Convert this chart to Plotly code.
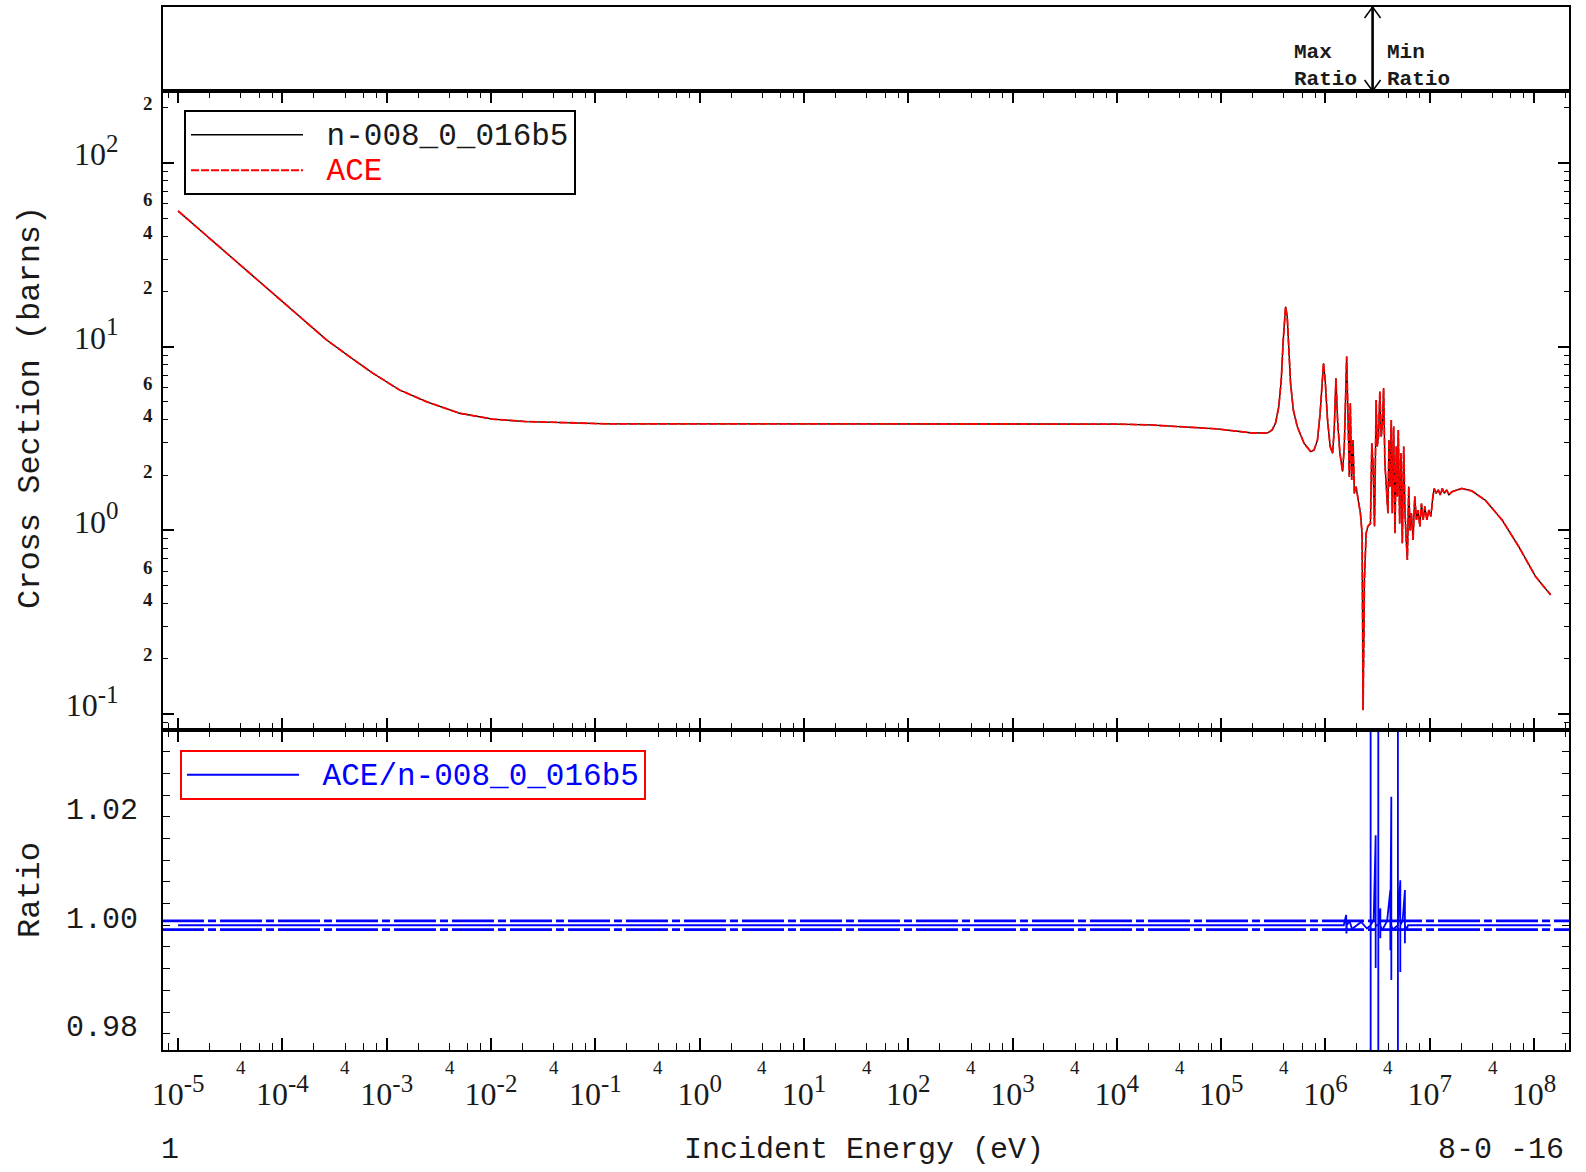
import math
import plotly.graph_objects as go

# ---------------- data ----------------
energy_ev = [
    1.0e-5, 1.49e-5, 2.90e-5, 6.04e-5, 1.46e-4, 2.64e-4, 4.40e-4, 7.38e-4, 1.33e-3, 2.40e-3,
    5.0e-3, 1.04e-2, 2.18e-2, 4.55e-2, 1.37e-1, 1.0, 1.0e1, 1.0e2, 1.0e3, 1.0e4,
    2.06e4, 4.33e4, 9.07e4, 1.90e5, 2.56e5, 2.76e5, 3.08e5, 3.32e5, 3.57e5, 3.77e5,
    3.94e5, 4.15e5, 4.30e5, 4.47e5, 4.63e5, 4.92e5, 5.37e5, 6.23e5, 7.23e5, 7.78e5,
    8.38e5, 8.89e5, 9.30e5, 9.58e5, 9.94e5, 1.047e6, 1.11e6, 1.17e6, 1.214e6, 1.26e6,
    1.307e6, 1.376e6, 1.46e6, 1.516e6, 1.597e6, 1.644e6, 1.694e6, 1.732e6, 1.784e6, 1.838e6,
    1.893e6, 1.965e6, 2.04e6, 2.163e6, 2.245e6, 2.295e6, 2.364e6, 2.454e6, 2.547e6, 2.70e6,
    2.783e6, 2.867e6, 2.953e6, 3.064e6, 3.133e6, 3.227e6, 3.324e6, 3.424e6, 3.527e6, 3.607e6,
    3.715e6, 3.826e6, 3.971e6, 4.061e6, 4.152e6, 4.277e6, 4.373e6, 4.504e6, 4.640e6, 4.779e6,
    4.886e6, 4.996e6, 5.146e6, 5.30e6, 5.46e6, 5.625e6, 5.794e6, 5.97e6, 6.10e6, 6.285e6,
    6.475e6, 6.67e6, 6.92e6, 7.18e6, 7.455e6, 7.74e6, 8.03e6, 8.33e6, 8.65e6, 8.97e6,
    9.38e6, 9.80e6, 1.025e7, 1.072e7, 1.104e7, 1.154e7, 1.207e7, 1.262e7, 1.319e7, 1.379e7,
    1.452e7, 1.529e7, 1.623e7, 2.027e7, 2.532e7, 3.404e7, 4.93e7, 7.14e7, 1.034e8, 1.443e8,
]
xs_endf_barns = [
    54.8, 45.0, 32.3, 22.6, 14.6, 10.9, 8.82, 7.16, 5.81, 5.02,
    4.34, 4.03, 3.91, 3.86, 3.80, 3.80, 3.80, 3.80, 3.80, 3.79,
    3.75, 3.67, 3.57, 3.40, 3.36, 3.38, 3.52, 3.83, 4.72, 6.59,
    10.9, 16.5, 14.6, 10.0, 6.32, 4.52, 3.67, 2.98, 2.68, 2.74,
    3.10, 4.34, 6.59, 8.12, 6.59, 3.99, 2.86, 2.63, 3.52, 6.73,
    3.99, 2.63, 2.09, 2.86, 8.83, 4.34, 1.96, 4.92, 1.88, 3.10,
    1.59, 1.73, 1.53, 1.24, 0.963, 0.105, 0.537, 0.963, 1.05, 1.09,
    2.98, 2.22, 1.05, 5.13, 2.86, 3.24, 5.69, 3.24, 3.83, 5.93,
    2.32, 1.73, 1.24, 3.10, 1.73, 3.99, 1.24, 3.67, 0.963, 2.86,
    1.53, 3.52, 1.09, 2.63, 0.850, 2.86, 1.24, 0.850, 0.690, 1.73,
    1.00, 1.24, 0.886, 1.53, 1.14, 1.29, 1.05, 1.40, 1.14, 1.35,
    1.14, 1.29, 1.19, 1.53, 1.69, 1.59, 1.66, 1.56, 1.69, 1.59,
    1.66, 1.56, 1.62, 1.69, 1.64, 1.46, 1.14, 0.815, 0.560, 0.445,
]
# ACE reconstruction is indistinguishable from the ENDF curve in the picture
xs_ace_barns = list(xs_endf_barns)

ratio_energy_ev = [
    1.0e-5, 1.0e1, 1.0e3, 1.0e5, 1.5e6, 1.58e6, 1.59e6, 1.60e6, 1.7e6, 1.8e6,
    2.0e6, 2.2e6, 2.5e6, 2.71e6, 2.711e6, 2.712e6, 2.713e6, 2.9e6, 3.03e6, 3.031e6,
    3.032e6, 3.21e6, 3.211e6, 3.212e6, 3.213e6, 3.36e6, 3.361e6, 3.362e6, 3.5e6, 3.9e6,
    4.19e6, 4.191e6, 4.192e6, 4.28e6, 4.281e6, 4.282e6, 4.4e6, 4.95e6, 4.951e6, 4.952e6,
    4.953e6, 5.22e6, 5.221e6, 5.222e6, 5.5e6, 5.78e6, 5.781e6, 5.782e6, 6.0e6, 6.2e6,
    1.0e7, 1.443e8,
]
ratio_values = [
    1.0, 1.0, 1.0, 1.0, 1.0, 1.0019, 0.9985, 1.0, 1.0008, 0.9993,
    1.0, 1.0006, 0.9994, 1.0, 1.2, 0.8, 1.0, 1.0010, 1.0166, 0.9921,
    1.0, 1.0, 1.2, 0.8, 1.0, 1.0031, 0.9976, 1.0, 0.9991, 1.0008,
    1.0065, 0.9954, 1.0, 1.0237, 0.9899, 1.0, 0.9992, 1.0, 1.2, 0.8,
    1.0, 1.0083, 0.9914, 1.0, 1.0009, 1.0065, 0.9967, 1.0, 0.9992, 1.0,
    1.0, 1.0,
]
band_energy_ev = [7.0e-6, 2.2e8]
band_upper = [1.0008, 1.0008]
band_lower = [0.9992, 0.9992]

max_ratio_energy_ev = 2.83e6

x_decade_labels = ["-5", "-4", "-3", "-2", "-1", "0", "1", "2", "3", "4", "5", "6", "7", "8"]
y_decade_labels = ["-1", "0", "1", "2"]
y_minor_label_vals = [0.2, 0.4, 0.6, 2, 4, 6, 20, 40, 60, 200]
y_minor_label_text = ["2", "4", "6", "2", "4", "6", "2", "4", "6", "2"]
x_minor_label_vals = [4 * 10.0 ** k for k in range(-5, 8)]
ratio_tick_vals = [0.98, 1.00, 1.02]
ratio_tick_labels = ["0.98", "1.00", "1.02"]

# ---------------- layout geometry ----------------
W, H = 1586, 1172
L_PX, R_PX = 163, 1569
TOP_PX, MAIN_TOP_PX, RATIO_TOP_PX, BOT_PX = 7, 91, 730, 1050
PH = BOT_PX - TOP_PX


def py(y):
    return (BOT_PX - y) / PH


def px(x):
    return (x - L_PX) / (R_PX - L_PX)


def pow_label(exp):
    return "10<sup><span style='font-size:25px'>%s</span></sup>" % exp


dom_ratio = [0.0, py(RATIO_TOP_PX)]
dom_main = [py(RATIO_TOP_PX), py(MAIN_TOP_PX)]
dom_top = [py(MAIN_TOP_PX), 1.0]

SERIF = "Liberation Serif"
MONO = "Liberation Mono"
INK = "#1a1a1a"

x_tickvals = [10.0 ** k for k in range(-5, 9)]
x_minor = [m * 10.0 ** k for k in range(-6, 9) for m in (2, 4, 6, 8)]
y_tickvals = [10.0 ** k for k in range(-1, 3)]
y_minor = [m * 10.0 ** k for k in range(-2, 3) for m in range(2, 10)]
r_minor = [round(0.976 + 0.004 * i, 4) for i in range(0, 16)]

fig = go.Figure()

fig.add_trace(go.Scatter(x=energy_ev, y=xs_endf_barns, mode="lines",
                         name="<span style='font-size:31px'>\u00a0n-008_0_016b5</span>",
                         line=dict(color="black", width=1.3), xaxis="x2", yaxis="y2",
                         legend="legend"))
fig.add_trace(go.Scatter(x=energy_ev, y=xs_ace_barns, mode="lines",
                         name="<span style='font-size:31px;color:#ff0000'>\u00a0ACE</span>",
                         line=dict(color="#ff0000", width=1.8, dash="8px,2px"),
                         xaxis="x2", yaxis="y2", legend="legend"))

fig.add_trace(go.Scatter(x=band_energy_ev, y=band_upper, mode="lines", showlegend=False,
                         line=dict(color="#0000ff", width=2.6, dash="42px,4px,8px,4px"),
                         xaxis="x", yaxis="y", hoverinfo="skip"))
fig.add_trace(go.Scatter(x=band_energy_ev, y=band_lower, mode="lines", showlegend=False,
                         line=dict(color="#0000ff", width=2.6, dash="42px,4px,8px,4px"),
                         xaxis="x", yaxis="y", hoverinfo="skip"))
fig.add_trace(go.Scatter(x=ratio_energy_ev, y=ratio_values, mode="lines",
                         name="<span style='font-size:31px'>\u00a0ACE/n-008_0_016b5</span>",
                         line=dict(color="#0000ff", width=1.8),
                         xaxis="x", yaxis="y", legend="legend2"))

common_x = dict(type="log", range=[-5.145, 8.335], showgrid=False, zeroline=False,
                showline=True, linecolor="black", linewidth=2, mirror="allticks",
                ticks="inside", ticklen=12, tickwidth=1.6, tickcolor="black",
                tickvals=x_tickvals,
                minor=dict(tickvals=x_minor, ticks="inside", ticklen=7, tickwidth=1.4,
                           tickcolor="black", showgrid=False))

axis_x = dict(common_x, anchor="y", domain=[0, 1],
              ticktext=[pow_label(e) for e in x_decade_labels],
              tickfont=dict(family=SERIF, size=32, color=INK), ticklabelstandoff=15)
axis_x2 = dict(common_x, anchor="y2", domain=[0, 1], matches="x", showticklabels=False)
axis_x3 = dict(type="log", range=[-5.145, 8.335], anchor="y3", domain=[0, 1], matches="x",
               showgrid=False, zeroline=False, showline=True, linecolor="black",
               linewidth=2, mirror=True, ticks="", showticklabels=False)

axis_y = dict(domain=dom_ratio, anchor="x", range=[0.9770, 1.0360], showgrid=False,
              zeroline=False, showline=True, linecolor="black", linewidth=2,
              mirror="allticks", ticks="inside", ticklen=7, tickwidth=1.4, tickcolor="black",
              tickvals=ratio_tick_vals, ticktext=ratio_tick_labels,
              tickfont=dict(family=MONO, size=30, color=INK), ticklabelstandoff=17,
              ticklabelshift=-8,
              minor=dict(tickvals=r_minor, ticks="inside", ticklen=7, tickwidth=1.4,
                         tickcolor="black", showgrid=False))
axis_y2 = dict(domain=dom_main, anchor="x2", type="log", range=[-1.087, 2.392],
               showgrid=False, zeroline=False, showline=True, linecolor="black",
               linewidth=2, mirror="allticks", ticks="inside", ticklen=11, tickwidth=1.6,
               tickcolor="black", tickvals=y_tickvals,
               ticktext=[pow_label(e) for e in y_decade_labels],
               tickfont=dict(family=SERIF, size=32, color=INK), ticklabelstandoff=36,
               ticklabelshift=-9,
               minor=dict(tickvals=y_minor, ticks="inside", ticklen=5, tickwidth=1.4,
                          tickcolor="black", showgrid=False))
axis_y3 = dict(domain=dom_top, anchor="x3", range=[0, 1], showgrid=False, zeroline=False,
               showline=True, linecolor="black", linewidth=2, mirror=True, ticks="",
               showticklabels=False)

annotations = []
for v, t in zip(y_minor_label_vals, y_minor_label_text):
    annotations.append(dict(x=0, xref="paper", xanchor="right", xshift=-8,
                            y=math.log10(v), yref="y2", yanchor="middle", yshift=4,
                            text=t, showarrow=False,
                            font=dict(family=SERIF, size=19, color=INK, weight="bold")))
for v in x_minor_label_vals:
    annotations.append(dict(x=math.log10(v), xref="x", xanchor="center",
                            y=0, yref="paper", yanchor="middle", yshift=-17,
                            text="4", showarrow=False,
                            font=dict(family=SERIF, size=19, color=INK)))
annotations += [
    dict(x=0, xref="paper", xshift=-(L_PX - 30), y=py(408), yref="paper",
         text="Cross Section (barns)", textangle=-90, showarrow=False,
         xanchor="center", yanchor="middle", font=dict(family=MONO, size=32, color=INK)),
    dict(x=0, xref="paper", xshift=-(L_PX - 30), y=py(890), yref="paper",
         text="Ratio", textangle=-90, showarrow=False,
         xanchor="center", yanchor="middle", font=dict(family=MONO, size=32, color=INK)),
    dict(x=px(864), xref="paper", y=py(1150), yref="paper",
         text="Incident Energy (eV)", showarrow=False, xanchor="center", yanchor="middle",
         font=dict(family=MONO, size=30, color=INK)),
    dict(x=px(170), xref="paper", y=py(1150), yref="paper",
         text="1", showarrow=False, xanchor="center", yanchor="middle",
         font=dict(family=MONO, size=30, color=INK)),
    dict(x=px(1566), xref="paper", y=py(1150), yref="paper",
         text="8-0 -16", showarrow=False, xanchor="right", yanchor="middle",
         font=dict(family=MONO, size=30, color=INK)),
    dict(x=math.log10(max_ratio_energy_ev), xref="x3", xanchor="right", xshift=-14,
         y=0.30, yref="y3", yanchor="middle", text="Max<br>Ratio", showarrow=False,
         align="left", font=dict(family=MONO, size=21, color=INK, weight="bold")),
    dict(x=math.log10(max_ratio_energy_ev), xref="x3", xanchor="left", xshift=12,
         y=0.30, yref="y3", yanchor="middle", text="Min<br>Ratio", showarrow=False,
         align="left", font=dict(family=MONO, size=21, color=INK, weight="bold")),
]

shapes = [
    dict(type="line", xref="x3", yref="y3", x0=max_ratio_energy_ev, x1=max_ratio_energy_ev,
         y0=0, y1=1, line=dict(color="black", width=2.6)),
    dict(type="path", xref="x3", yref="y3", xsizemode="pixel", ysizemode="pixel",
         xanchor=max_ratio_energy_ev, yanchor=1, path="M-8,-11 L0,0 L8,-11",
         line=dict(color="black", width=1.5)),
    dict(type="path", xref="x3", yref="y3", xsizemode="pixel", ysizemode="pixel",
         xanchor=max_ratio_energy_ev, yanchor=0, path="M-8,11 L0,0 L8,11",
         line=dict(color="black", width=1.5)),
]

fig.update_layout(
    width=W, height=H,
    margin=dict(l=L_PX, r=W - R_PX, t=TOP_PX, b=H - BOT_PX, autoexpand=False),
    paper_bgcolor="white", plot_bgcolor="white",
    xaxis=axis_x, xaxis2=axis_x2, xaxis3=axis_x3,
    yaxis=axis_y, yaxis2=axis_y2, yaxis3=axis_y3,
    legend=dict(x=px(184), y=py(110), xanchor="left", yanchor="top",
                bordercolor="black", borderwidth=2, bgcolor="white",
                font=dict(family=MONO, size=25, color=INK), itemwidth=112,
                tracegroupgap=0),
    legend2=dict(x=px(180), y=py(750), xanchor="left", yanchor="top",
                 bordercolor="#ff0000", borderwidth=2, bgcolor="white",
                 font=dict(family=MONO, size=25, color="#0000ff"), itemwidth=112),
    annotations=annotations,
    shapes=shapes,
    showlegend=True,
)

fig.write_html("out.html", config={"displayModeBar": False},
               post_script="document.body.style.margin='0px';")
